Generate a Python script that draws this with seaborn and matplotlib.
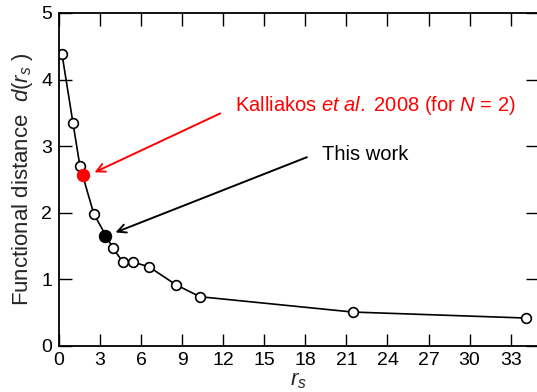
import matplotlib
matplotlib.use("Agg")
import matplotlib.pyplot as plt
import seaborn as sns
import pandas as pd

rs = [0.22, 1.02, 1.53, 2.55, 3.94, 4.67, 5.4, 6.57, 8.54, 10.3, 21.46, 34.1]
dist = [4.38, 3.35, 2.70, 1.98, 1.47, 1.26, 1.26, 1.19, 0.92, 0.74, 0.51, 0.42]
kalliakos_rs = [1.75]
kalliakos_d = [2.57]
this_rs = [3.36]
this_d = [1.65]
xticks = list(range(0, 34, 3))
yticks = [0, 1, 2, 3, 4, 5]

sns.set_style("ticks")
plt.rcParams['font.family'] = ['Liberation Sans', 'DejaVu Sans']
plt.rcParams['mathtext.fontset'] = 'custom'
plt.rcParams['mathtext.rm'] = 'Liberation Sans'
plt.rcParams['mathtext.it'] = 'Liberation Sans:italic'

fig = plt.figure(figsize=(5.37, 3.92), dpi=100)
ax = fig.add_axes([59/537, 46/392, (538-59)/537, (346-13)/392])

df = pd.DataFrame({"rs": rs, "d": dist})
sns.lineplot(data=df, x="rs", y="d", ax=ax, color="black", lw=1.2,
             marker="o", markersize=7, markerfacecolor="white",
             markeredgecolor="black", markeredgewidth=1.2)
sns.scatterplot(x=kalliakos_rs, y=kalliakos_d, ax=ax, color="red", s=80,
                edgecolor="red", zorder=5)
sns.scatterplot(x=this_rs, y=this_d, ax=ax, color="black", s=80,
                edgecolor="black", zorder=5)

ax.set_xlim(0, 35)
ax.set_ylim(0, 5)
ax.set_xticks(xticks)
ax.set_yticks(yticks)
ax.tick_params(direction="in", length=9, width=1, top=True, right=True,
               labelsize=14, colors="black")
ax.tick_params(axis="y", pad=5)
ax.tick_params(axis="x", pad=4)
for s in ax.spines.values():
    s.set_linewidth(1.3)
    s.set_color("black")

ax.set_xlabel("$r_s$", fontsize=16, labelpad=1)
ax.set_ylabel("Functional distance  $d$($r_s$ )", fontsize=16, labelpad=4)

ax.annotate("", xy=(2.41, 2.59), xytext=(11.97, 3.51),
            arrowprops=dict(arrowstyle="->", color="red", lw=1.4,
                            mutation_scale=15))
ax.text(12.85, 3.61, "Kalliakos $et\\ al.$ 2008 (for $N$ = 2)", color="red",
        fontsize=14.5, va="center", ha="left")
ax.annotate("", xy=(3.94, 1.69), xytext=(18.3, 2.85),
            arrowprops=dict(arrowstyle="->", color="black", lw=1.4,
                            mutation_scale=15))
ax.text(19.2, 2.88, "This work", color="black", fontsize=14.5,
        va="center", ha="left")

fig.savefig("out.png", dpi=100)
